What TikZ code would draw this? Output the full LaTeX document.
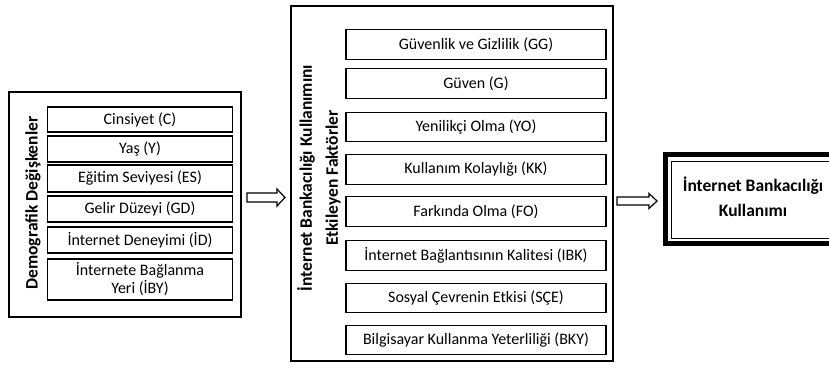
\documentclass[tikz,border=0pt]{standalone}
\usepackage{fontspec}
\setmainfont{Carlito}
\begin{document}
\begin{tikzpicture}[x=1pt,y=-1pt,
  box/.style={draw,line width=1.2pt,inner sep=0pt,outer sep=0pt,font=\fontsize{16}{18}\selectfont,align=center},
  lbox/.style={box,minimum width=185pt},
  mbox/.style={box,minimum width=260pt,minimum height=29.5pt},
  frame/.style={draw,line width=1.2pt,inner sep=0pt,outer sep=0pt},
  title/.style={font=\bfseries\fontsize{17.5}{26}\selectfont,align=center,rotate=90,inner sep=0pt},
  harrow/.style={draw,line width=1.2pt,fill=white,line join=miter}]
\useasboundingbox (0,0) rectangle (829,365);
\clip (0,0) rectangle (829,365);
% left group
\node[frame,minimum width=232pt,minimum height=225pt] (demo) at (125,204.5) {};
\node[title] (demotitle) at (33,203) {Demografik Değişkenler};
\node[lbox,minimum height=25pt] (c) at (140,119.5) {Cinsiyet (C)};
\node[lbox,minimum height=26pt] (y) at (140,149) {Yaş (Y)};
\node[lbox,minimum height=27pt] (es) at (140,178.5) {Eğitim Seviyesi (ES)};
\node[lbox,minimum height=26pt] (gd) at (140,209) {Gelir Düzeyi (GD)};
\node[lbox,minimum height=26pt] (id) at (140,240) {İnternet Deneyimi (İD)};
\node[lbox,minimum height=41pt] (iby) at (140,279.5) {İnternete Bağlanma\\Yeri (İBY)};
% middle group
\node[frame,minimum width=322pt,minimum height=355pt] (fac) at (452,183.5) {};
\node[title] (factitle) at (319,178) {İnternet Bankacılığı Kullanımını\\Etkileyen Faktörler};
\node[mbox] (gg) at (476,44.5) {Güvenlik ve Gizlilik (GG)};
\node[mbox] (g) at (476,83.5) {Güven (G)};
\node[mbox] (yo) at (476,127) {Yenilikçi Olma (YO)};
\node[mbox] (kk) at (476,169.5) {Kullanım Kolaylığı (KK)};
\node[mbox] (fo) at (476,211.5) {Farkında Olma (FO)};
\node[mbox] (ibk) at (476,255.5) {İnternet Bağlantısının Kalitesi (IBK)};
\node[mbox] (sce) at (476,298) {Sosyal Çevrenin Etkisi (SÇE)};
\node[mbox] (bky) at (476,340) {Bilgisayar Kullanma Yeterliliği (BKY)};
% right box
\node[draw,line width=5pt,inner sep=0pt,minimum width=175pt,minimum height=89pt] (useo) at (753,199) {};
\node[draw,line width=1pt,inner sep=0pt,minimum width=164pt,minimum height=77pt] (usei) at (753,199.5) {};
\node[font=\bfseries\fontsize{17.5}{25}\selectfont,align=center] (use) at (753,197) {İnternet Bankacılığı\\Kullanımı};
% arrows
\coordinate (a1) at (247,197.5);
\draw[harrow] (a1) ++(0,-4.5) -- ++(30,0) -- ++(0,-4) -- ++(8,8.5) -- ++(-8,8.5) -- ++(0,-4) -- ++(-30,0) -- cycle;
\coordinate (a2) at (617,201);
\draw[harrow] (a2) ++(0,-4) -- ++(32,0) -- ++(0,-3.5) -- ++(8,7.5) -- ++(-8,7.5) -- ++(0,-3.5) -- ++(-32,0) -- cycle;
\end{tikzpicture}
\end{document}
